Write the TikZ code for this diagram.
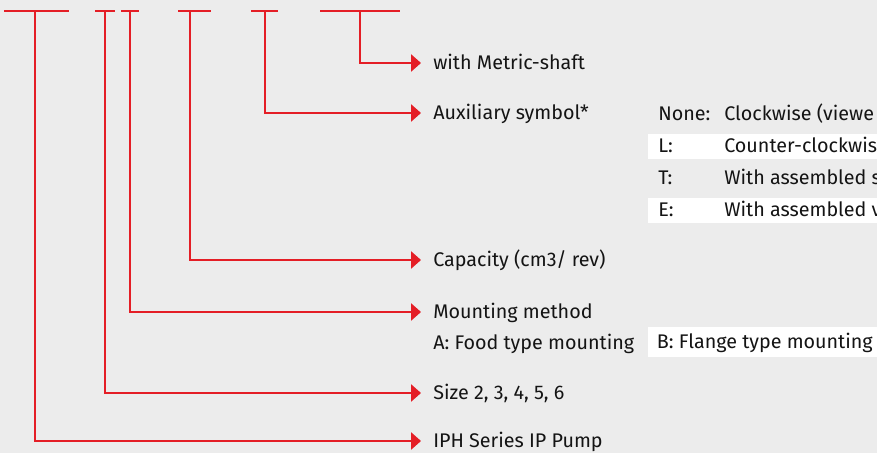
\documentclass[tikz,border=0pt]{standalone}
\usepackage{fontspec}
\setmainfont{Fira Sans}
\usepackage{xcolor}
\usetikzlibrary{arrows.meta,positioning}

\definecolor{codered}{RGB}{228,30,38}
\definecolor{panelgrey}{RGB}{236,236,236}
\definecolor{inktext}{RGB}{20,20,20}

\begin{document}
\begin{tikzpicture}[
    x=0.75pt,
    y=-0.75pt,
    codebar/.style={
        draw=codered,
        line width=1.1pt
    },
    codearrow/.style={
        draw=codered,
        line width=1.1pt,
        -{Triangle[length=7.5pt,width=13pt]}
    },
    desc/.style={
        anchor=west,
        inner xsep=9pt,
        inner ysep=0pt,
        text height=10.4pt,
        text depth=0pt,
        text=inktext,
        font=\fontsize{14.8}{17}\selectfont
    },
    tabcell/.style={
        desc,
        inner xsep=0pt
    },
    optbox/.style={
        desc,
        fill=white,
        inner xsep=6.5pt,
        minimum height=23pt
    }
]
\useasboundingbox (0,0) rectangle (877,453);
\clip (0,0) rectangle (877,453);
\fill[panelgrey] (0,0) rectangle (877,453);

% code fields along the top
\foreach \a/\b/\s/\n in {4/69/35/iph, 95/115/105/size, 121/139/130/mount,
                         178/211/190/cap, 251/278/265/aux, 320/400/360/metric}{
    \draw[codebar] (\a,11) -- (\b,11);
    \coordinate (s\n) at (\s,11);
}

% descriptions
\node[desc] (metric) at (421,63) {with Metric-shaft};
\node[desc] (aux) at (421,113) {Auxiliary symbol*};
\node[desc] (cap) at (421,260) {Capacity (cm3/ rev)};
\node[desc] (mount) at (421,312) {Mounting method};
\node[desc] (mountA) at (421,343) {A: Food type mounting};
\node[optbox] (mountB) at (648,342) {B: Flange type mounting};
\node[desc] (size) at (421,393) {Size 2, 3, 4, 5, 6};
\node[desc] (iph) at (421,441) {IPH Series IP Pump};

% auxiliary symbol table
\fill[white] (648,134) rectangle (877,159);
\fill[white] (648,198) rectangle (877,223);
\node[tabcell] (keyNone) at (658,114) {None:};
\node[tabcell] (valNone) at (724,114) {Clockwise (viewe};
\node[tabcell] (keyL) at (658,146) {L:};
\node[tabcell] (valL) at (724,146) {Counter-clockwis};
\node[tabcell] (keyT) at (658,178) {T:};
\node[tabcell] (valT) at (724,178) {With assembled s};
\node[tabcell] (keyE) at (658,210) {E:};
\node[tabcell] (valE) at (724,210) {With assembled v};

% leaders
\draw[codearrow] (smetric) |- (metric.west);
\draw[codearrow] (saux) |- (aux.west);
\draw[codearrow] (scap) |- (cap.west);
\draw[codearrow] (smount) |- (mount.west);
\draw[codearrow] (ssize) |- (size.west);
\draw[codearrow] (siph) |- (iph.west);
\end{tikzpicture}
\end{document}
